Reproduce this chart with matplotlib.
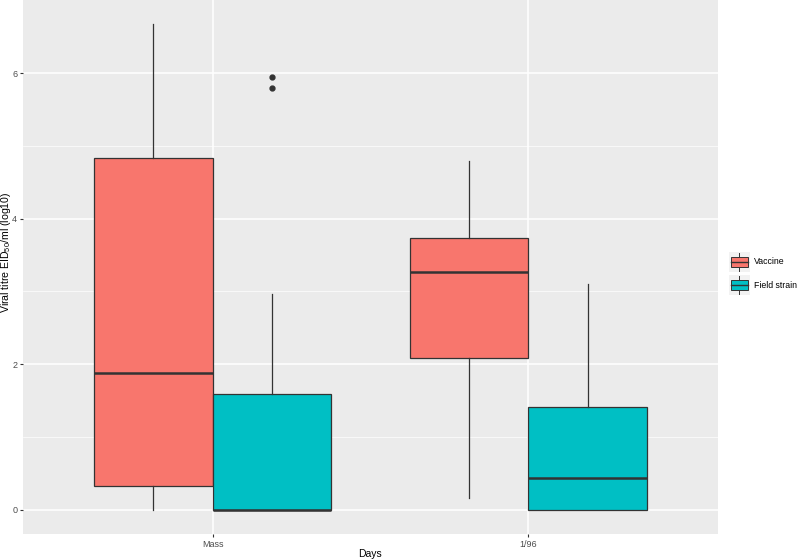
import numpy as np
import matplotlib
matplotlib.use("Agg")
import matplotlib.pyplot as plt
from matplotlib.patches import Rectangle

plt.rcParams['font.family'] = ['Liberation Sans', 'DejaVu Sans']
plt.rcParams['mathtext.fontset'] = 'custom'
plt.rcParams['mathtext.rm'] = 'Liberation Sans'

# box statistics (log10 EID50/ml)
days = ["Mass", "1/96"]
groups = ["Vaccine", "Field strain"]
colors = ["#F8766D", "#00BFC4"]

whislo = [[0.0, 0.16], [0.0, 0.0]]
q1 = [[0.33, 2.08], [0.0, 0.0]]
med = [[1.88, 3.27], [0.0, 0.43]]
q3 = [[4.83, 3.74], [1.59, 1.41]]
whishi = [[6.67, 4.79], [2.97, 3.10]]
fliers = [[[], []], [[5.95, 5.80], []]]

W, H = 797, 560
fig = plt.figure(figsize=(W / 100, H / 100), dpi=100)
ax = fig.add_axes([23 / W, 26 / H, (718 - 23) / W, 534 / H])
ax.set_facecolor("#EBEBEB")

dodge = 0.75
bw = dodge / 2
for g in range(len(groups)):
    stats = []
    pos = []
    for d in range(len(days)):
        stats.append(dict(whislo=whislo[g][d], q1=q1[g][d], med=med[g][d],
                          q3=q3[g][d], whishi=whishi[g][d], fliers=fliers[g][d]))
        pos.append(d + 1 + (g - 0.5) * bw)
    ax.bxp(stats, positions=pos, widths=bw, patch_artist=True, showcaps=False,
           boxprops=dict(facecolor=colors[g], edgecolor="#333333", linewidth=0.9),
           medianprops=dict(color="#333333", linewidth=1.8),
           whiskerprops=dict(color="#333333", linewidth=0.9),
           flierprops=dict(marker="o", markerfacecolor="#333333",
                           markeredgecolor="#333333", markersize=3.5),
           zorder=3)

ax.set_xlim(0.4, 2.6)
ax.set_ylim(-0.3335, 7.0035)
ax.set_xticks([1, 2])
ax.set_xticklabels(days)
ax.set_yticks([0, 2, 4, 6])
ax.set_yticks([1, 3, 5], minor=True)
ax.grid(which="major", color="white", linewidth=1.1, zorder=0)
ax.grid(which="minor", axis="y", color="white", linewidth=0.5, zorder=0)
ax.set_axisbelow(True)
for s in ax.spines.values():
    s.set_visible(False)
ax.tick_params(which="major", length=2.2, width=0.8, color="#333333",
               labelsize=6.5, labelcolor="#4D4D4D", pad=2)
ax.tick_params(which="minor", length=0)

fig.text(370 / W, 1 - 554 / H, "Days", fontsize=7.5, ha="center", va="center")
fig.text(6 / W, 1 - 252 / H, r"Viral titre EID$_{50}$/ml (log10)", fontsize=7.6,
         rotation=90, ha="center", va="center")

# legend drawn by hand in ggplot style
lax = fig.add_axes([0, 0, 1, 1], facecolor="none")
lax.set_xlim(0, W)
lax.set_ylim(H, 0)
lax.axis("off")
key_top = [252, 275]
for i, (lab, c) in enumerate(zip(groups, colors)):
    y0 = key_top[i]
    lax.add_patch(Rectangle((729, y0), 21, 20, facecolor="#F2F2F2", edgecolor="none"))
    lax.add_patch(Rectangle((731, y0 + 5), 17, 10, facecolor=c, edgecolor="#333333", linewidth=0.7))
    lax.plot([731, 748], [y0 + 10, y0 + 10], color="#333333", linewidth=1.0)
    lax.plot([739.5, 739.5], [y0 + 1, y0 + 5], color="#333333", linewidth=0.7)
    lax.plot([739.5, 739.5], [y0 + 15, y0 + 19], color="#333333", linewidth=0.7)
    lax.text(754, y0 + 10, lab, fontsize=6.3, ha="left", va="center")

fig.savefig("out.png", dpi=100)
